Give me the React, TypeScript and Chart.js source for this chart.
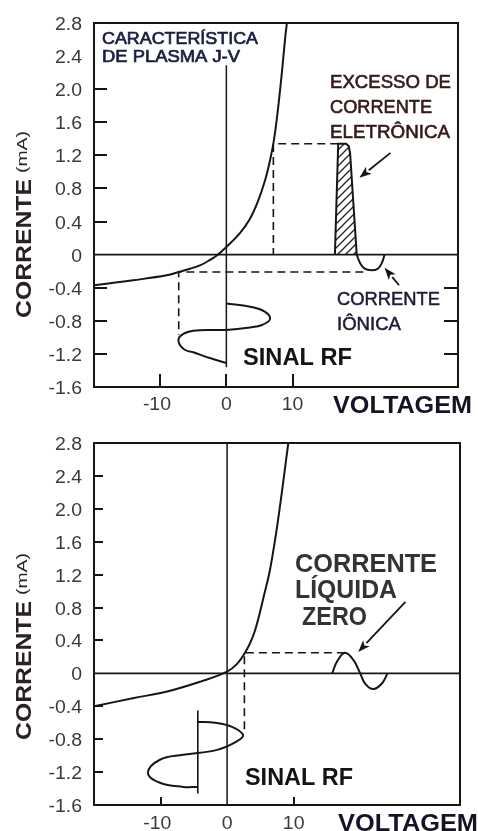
import React, { useEffect, useRef } from "react";
import { Chart, registerables } from "chart.js";

Chart.register(...registerables);

const INK = "#161616";
const SANS = "'Liberation Sans', Arial, Helvetica, sans-serif";

// Axis ranges: probe voltage (V) and current (mA)
const vMin = -20;
const vMax = 35;
const iMin = -1.6;
const iMax = 2.8;
const yTickValues = [2.8, 2.4, 2.0, 1.6, 1.2, 0.8, 0.4, 0, -0.4, -0.8, -1.2, -1.6];
const yTickLabels = ["2.8", "2.4", "2.0", "1.6", "1.2", "0.8", "0.4", "0", "-0.4", "-0.8", "-1.2", "-1.6"];
const xTickValues = [-10, 0, 10];
const xTickLabels = ["-10", "0", "10"];

// Shared reference lines
const zeroLineV = [vMin, vMax];
const zeroLineI = [0, 0];

// ---- Upper panel ----
// plasma J-V characteristic
const jvUpperV = [-20, -14.1, -9, -7.2, -5.5, -4, -2.8, -1.6, 0.1, 2.05, 3.55, 4.75, 5.85, 6.6, 7.2, 7.8, 8.4, 8.9, 9.15];
const jvUpperI = [-0.37, -0.31, -0.25, -0.21, -0.17, -0.13, -0.08, -0.02, 0.1, 0.26, 0.43, 0.64, 0.9, 1.14, 1.39, 1.76, 2.21, 2.63, 2.8];
// excess electron current pulse (hatched)
const pulseV = [16.4, 16.9, 18.1, 18.5, 18.7, 19.7];
const pulseI = [0, 1.34, 1.34, 1.31, 1.22, 0];
// ion current lobe
const ionV = [19.7, 20.2, 20.9, 21.9, 22.9, 23.5, 23.9];
const ionI = [0, -0.1, -0.17, -0.19, -0.17, -0.1, 0];
// RF drive signal (time runs downward)
const rfUpperV = [0, 3.6, 5.8, 6.6, 5.4, 3.6, 0, -5.0, -6.9, -7.2, -6.3, -5.0, -2.5, 0];
const rfUpperI = [-0.59, -0.63, -0.69, -0.78, -0.85, -0.88, -0.91, -0.92, -0.98, -1.06, -1.15, -1.18, -1.25, -1.31];
// V = 0 axis / RF time axis
const axisUpperV = [0, 0];
const axisUpperI = [2.29, -1.36];
// projection guides
const guideHighV = [16.9, 7.1, 7.1];
const guideHighI = [1.34, 1.34, 0];
const guideLowV = [20.7, -7.2, -7.2];
const guideLowI = [-0.21, -0.21, -0.97];

// ---- Lower panel ----
const jvLowerV = [-20, -14, -9, -4, 0, 1.5, 2.7, 3.8, 4.65, 5.55, 6.45, 7.65, 9.2];
const jvLowerI = [-0.4, -0.3, -0.22, -0.1, 0.02, 0.115, 0.25, 0.43, 0.65, 0.95, 1.26, 1.86, 2.8];
// net current oscillation (zero mean)
const netV = [15.8, 16.5, 17.7, 19.0, 20.0, 20.8, 22.0, 23.3, 24.1];
const netI = [0, 0.14, 0.25, 0.16, 0, -0.13, -0.19, -0.12, 0];
// RF drive signal around the self-bias voltage
const rfLowerV = [-4.4, -1.8, 0.75, 2.4, 1.4, -1.5, -6.6, -10.1, -11.9, -10.1, -6.6, -4.4];
const rfLowerI = [-0.59, -0.6, -0.65, -0.75, -0.83, -0.93, -0.99, -1.05, -1.21, -1.33, -1.38, -1.38];
const rfAxisLowerV = [-4.4, -4.4];
const rfAxisLowerI = [-0.45, -1.46];
const axisLowerV = [0, 0];
const axisLowerI = [iMax, iMin];
const guideLowerV = [17.7, 2.6, 2.6];
const guideLowerI = [0.25, 0.25, -0.73];

// Callout arrows: [tail V, tail I, head V, head I]
const arrowsUpper = [
  [24.8, 1.23, 20.1, 0.93],
  [26.1, -0.37, 23.9, -0.16],
];
const arrowsLower = [[26.8, 0.87, 19.7, 0.26]];

type Pt = { x: number; y: number };
const pts = (xs: number[], ys: number[]): Pt[] => xs.map((x, i) => ({ x, y: ys[i] }));

const line = (xs: number[], ys: number[], extra: Record<string, unknown> = {}) => ({
  data: pts(xs, ys),
  borderColor: INK,
  borderWidth: 2,
  pointRadius: 0,
  fill: false,
  tension: 0,
  ...extra,
});

const DASH = { borderDash: [8, 5], borderWidth: 1.6 };

function hatchPattern(ctx: CanvasRenderingContext2D): CanvasPattern | string {
  const tile = document.createElement("canvas");
  tile.width = 8;
  tile.height = 8;
  const g = tile.getContext("2d");
  if (!g) return "rgba(0,0,0,0.3)";
  g.strokeStyle = "#222";
  g.lineWidth = 1.3;
  g.beginPath();
  g.moveTo(-1, 9);
  g.lineTo(9, -1);
  g.moveTo(-1, 1);
  g.lineTo(1, -1);
  g.moveTo(7, 9);
  g.lineTo(9, 7);
  g.stroke();
  return ctx.createPattern(tile, "repeat") || "rgba(0,0,0,0.3)";
}

type Label = {
  text: string;
  x: number;
  y: number;
  font: string;
  color: string;
  width?: number;
  stroke?: number;
};

type PanelSpec = {
  key: string;
  top: number;
  height: number;
  padding: { left: number; top: number; right: number; bottom: number };
  datasets: (ctx: CanvasRenderingContext2D) => any[];
  leftTicks: number[];
  leftTickLen: number;
  rightTicks: number[];
  rightTickLen: number;
  bottomTicks: number[];
  bottomTickLen: number;
  xLabelBaseline: number;
  yTitleBottom: number;
  arrows: number[][];
  labels: Label[];
};

function drawText(
  ctx: CanvasRenderingContext2D,
  text: string,
  x: number,
  y: number,
  font: string,
  color: string,
  align: "left" | "center" | "right",
  width?: number,
  sx = 1,
  baseline: CanvasTextBaseline = "alphabetic",
  stroke = 0
) {
  ctx.save();
  ctx.font = font;
  ctx.fillStyle = color;
  ctx.strokeStyle = color;
  ctx.textBaseline = baseline;
  ctx.textAlign = "left";
  const w = ctx.measureText(text).width;
  const k = width ? width / w : sx;
  const off = align === "left" ? 0 : align === "center" ? -w / 2 : -w;
  ctx.translate(x, y);
  ctx.scale(k, 1);
  ctx.fillText(text, off, 0);
  if (stroke > 0) {
    ctx.lineWidth = stroke;
    ctx.lineJoin = "round";
    ctx.strokeText(text, off, 0);
  }
  ctx.restore();
}

function drawArrow(ctx: CanvasRenderingContext2D, x0: number, y0: number, x1: number, y1: number) {
  const ang = Math.atan2(y1 - y0, x1 - x0);
  const len = 12;
  const half = 4.5;
  const bx = x1 - len * Math.cos(ang);
  const by = y1 - len * Math.sin(ang);
  ctx.beginPath();
  ctx.moveTo(x0, y0);
  ctx.lineTo(bx, by);
  ctx.stroke();
  ctx.beginPath();
  ctx.moveTo(x1, y1);
  ctx.lineTo(bx + half * Math.sin(ang), by - half * Math.cos(ang));
  ctx.lineTo(bx + 3 * Math.cos(ang), by + 3 * Math.sin(ang));
  ctx.lineTo(bx - half * Math.sin(ang), by + half * Math.cos(ang));
  ctx.closePath();
  ctx.fill();
}

const TICK_FONT = `18px ${SANS}`;
const TICK_COLOR = "#3a3a3a";
const TITLE_COLOR = "#2a2222";

function decorations(spec: PanelSpec) {
  return {
    id: "decor-" + spec.key,
    afterDatasetsDraw(chart: Chart) {
      const { ctx, chartArea: a } = chart;
      const xs = chart.scales.x;
      const ys = chart.scales.y;
      ctx.save();
      ctx.strokeStyle = INK;
      ctx.fillStyle = INK;
      ctx.lineWidth = 2;
      ctx.strokeRect(a.left, a.top, a.right - a.left, a.bottom - a.top);
      ctx.beginPath();
      for (const v of spec.leftTicks) {
        const y = Math.round(ys.getPixelForValue(v));
        ctx.moveTo(a.left, y);
        ctx.lineTo(a.left + spec.leftTickLen, y);
      }
      for (const v of spec.rightTicks) {
        const y = Math.round(ys.getPixelForValue(v));
        ctx.moveTo(a.right, y);
        ctx.lineTo(a.right - spec.rightTickLen, y);
      }
      for (const v of spec.bottomTicks) {
        const x = Math.round(xs.getPixelForValue(v));
        ctx.moveTo(x, a.bottom);
        ctx.lineTo(x, a.bottom - spec.bottomTickLen);
      }
      ctx.stroke();
      ctx.lineWidth = 1.8;
      for (const [v0, i0, v1, i1] of spec.arrows) {
        drawArrow(ctx, xs.getPixelForValue(v0), ys.getPixelForValue(i0), xs.getPixelForValue(v1), ys.getPixelForValue(i1));
      }
      ctx.restore();
    },
    afterDraw(chart: Chart) {
      const { ctx, chartArea: a } = chart;
      const xs = chart.scales.x;
      const ys = chart.scales.y;
      // value labels on the current axis
      yTickValues.forEach((v, i) => {
        drawText(ctx, yTickLabels[i], a.left - 12, ys.getPixelForValue(v) + 2, TICK_FONT, TICK_COLOR, "right", undefined, 1.08, "middle");
      });
      // value labels on the voltage axis, digits centred on the tick
      xTickValues.forEach((v, i) => {
        const lab = xTickLabels[i];
        ctx.save();
        ctx.font = TICK_FONT;
        const neg = lab.startsWith("-");
        const digits = neg ? lab.slice(1) : lab;
        const dw = ctx.measureText(digits).width * 1.08;
        const mw = neg ? ctx.measureText("-").width * 1.08 : 0;
        ctx.restore();
        const x = xs.getPixelForValue(v) - dw / 2 - mw;
        drawText(ctx, lab, x, spec.xLabelBaseline, TICK_FONT, TICK_COLOR, "left", undefined, 1.08);
      });
      // rotated current-axis title
      ctx.save();
      ctx.translate(30.5, spec.yTitleBottom);
      ctx.rotate(-Math.PI / 2);
      drawText(ctx, "CORRENTE", 0, 0, `bold 22px ${SANS}`, TITLE_COLOR, "left", 139);
      drawText(ctx, "(mA)", 145, -4, `15px ${SANS}`, TITLE_COLOR, "left", 42);
      ctx.restore();
      for (const l of spec.labels) {
        drawText(ctx, l.text, l.x, l.y, l.font, l.color, "left", l.width, 1, "alphabetic", l.stroke || 0);
      }
    },
  };
}

const upper: PanelSpec = {
  key: "upper",
  top: 0,
  height: 415,
  padding: { left: 94, top: 23, right: 20, bottom: 28 },
  datasets: (ctx) => [
    line(zeroLineV, zeroLineI, { borderWidth: 1.6 }),
    line(axisUpperV, axisUpperI, { borderWidth: 1.5 }),
    line(guideHighV, guideHighI, DASH),
    line(guideLowV, guideLowI, DASH),
    line(jvUpperV, jvUpperI, { tension: 0.4 }),
    line(pulseV, pulseI, { fill: "origin", backgroundColor: hatchPattern(ctx) }),
    line(ionV, ionI, { tension: 0.4 }),
    line(rfUpperV, rfUpperI, { tension: 0.4 }),
  ],
  leftTicks: [2.0, 1.6, 1.2, 0.8, 0.4, -0.4, -0.8, -1.2],
  leftTickLen: 13,
  rightTicks: [-0.4, -0.8, -1.2],
  rightTickLen: 14,
  bottomTicks: [-10, 0, 10],
  bottomTickLen: 13,
  xLabelBaseline: 410,
  yTitleBottom: 318,
  arrows: arrowsUpper,
  labels: [
    { text: "CARACTERÍSTICA", x: 102, y: 43.5, font: `17px ${SANS}`, color: "#1a1f40", width: 156, stroke: 0.7 },
    { text: "DE PLASMA J-V", x: 102, y: 62, font: `17px ${SANS}`, color: "#1a1f40", width: 138, stroke: 0.7 },
    { text: "EXCESSO DE", x: 330, y: 88, font: `18px ${SANS}`, color: "#361a1a", width: 121, stroke: 0.6 },
    { text: "CORRENTE", x: 330, y: 113, font: `18px ${SANS}`, color: "#361a1a", width: 102, stroke: 0.6 },
    { text: "ELETRÔNICA", x: 330, y: 138, font: `18px ${SANS}`, color: "#361a1a", width: 120, stroke: 0.6 },
    { text: "CORRENTE", x: 337, y: 305, font: `18px ${SANS}`, color: "#1c1c3a", width: 103, stroke: 0.5 },
    { text: "IÔNICA", x: 337, y: 330, font: `18px ${SANS}`, color: "#1c1c3a", width: 64, stroke: 0.5 },
    { text: "SINAL RF", x: 243, y: 365, font: `bold 23px ${SANS}`, color: "#141414", width: 109 },
    { text: "VOLTAGEM", x: 333, y: 413, font: `bold 24px ${SANS}`, color: "#141428", width: 139 },
  ],
};

const lower: PanelSpec = {
  key: "lower",
  top: 415,
  height: 416,
  padding: { left: 94, top: 28, right: 18, bottom: 26 },
  datasets: () => [
    line(zeroLineV, zeroLineI, { borderWidth: 1.6 }),
    line(axisLowerV, axisLowerI, { borderWidth: 1.5 }),
    line(rfAxisLowerV, rfAxisLowerI, { borderWidth: 1.6 }),
    line(guideLowerV, guideLowerI, DASH),
    line(jvLowerV, jvLowerI, { tension: 0.4 }),
    line(netV, netI, { tension: 0.4 }),
    line(rfLowerV, rfLowerI, { tension: 0.4 }),
  ],
  leftTicks: [2.4, 2.0, 1.6, 1.2, 0.8, 0.4, -0.4, -0.8, -1.2],
  leftTickLen: 9,
  rightTicks: [],
  rightTickLen: 0,
  bottomTicks: [-10, 10],
  bottomTickLen: 8,
  xLabelBaseline: 414,
  yTitleBottom: 325,
  arrows: arrowsLower,
  labels: [
    { text: "CORRENTE", x: 295, y: 157, font: `bold 25px ${SANS}`, color: "#333333", width: 142 },
    { text: "LÍQUIDA", x: 295, y: 183, font: `bold 25px ${SANS}`, color: "#333333", width: 102 },
    { text: "ZERO", x: 302, y: 210, font: `bold 25px ${SANS}`, color: "#333333", width: 65 },
    { text: "SINAL RF", x: 245, y: 370, font: `bold 23px ${SANS}`, color: "#141414", width: 108 },
    { text: "VOLTAGEM", x: 338, y: 416, font: `bold 24px ${SANS}`, color: "#141428", width: 140 },
  ],
};

function Panel({ spec }: { spec: PanelSpec }) {
  const ref = useRef<HTMLCanvasElement>(null);
  useEffect(() => {
    const canvas = ref.current;
    if (!canvas) return;
    const ctx = canvas.getContext("2d");
    if (!ctx) return;
    const chart = new Chart(ctx, {
      type: "line",
      data: { datasets: spec.datasets(ctx) },
      options: {
        animation: false,
        responsive: false,
        maintainAspectRatio: false,
        devicePixelRatio: 1,
        events: [],
        layout: { padding: spec.padding },
        plugins: { legend: { display: false }, tooltip: { enabled: false } },
        scales: {
          x: { type: "linear", min: vMin, max: vMax, display: false },
          y: { type: "linear", min: iMin, max: iMax, display: false },
        },
      },
      plugins: [decorations(spec)],
    });
    return () => chart.destroy();
  }, [spec]);
  return (
    <canvas
      ref={ref}
      width={478}
      height={spec.height}
      style={{ position: "absolute", left: 0, top: spec.top, width: 478, height: spec.height, display: "block" }}
    />
  );
}

export default function App() {
  return (
    <div style={{ position: "absolute", left: 0, top: 0, width: 478, height: 831, background: "#ffffff", overflow: "hidden" }}>
      <Panel spec={upper} />
      <Panel spec={lower} />
    </div>
  );
}
